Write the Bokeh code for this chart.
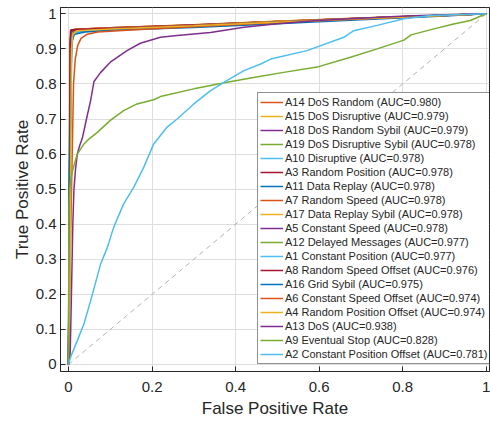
from bokeh.plotting import figure
from bokeh.models import Range1d, Legend, LegendItem, FixedTicker
from bokeh.embed import file_html
from bokeh.resources import INLINE

# ---------------- data ----------------
names = [
    "A14 DoS Random (AUC=0.980)",
    "A15 DoS Disruptive (AUC=0.979)",
    "A18 DoS Random Sybil (AUC=0.979)",
    "A19 DoS Disruptive Sybil (AUC=0.978)",
    "A10 Disruptive (AUC=0.978)",
    "A3 Random Position (AUC=0.978)",
    "A11 Data Replay (AUC=0.978)",
    "A7 Random Speed (AUC=0.978)",
    "A17 Data Replay Sybil (AUC=0.978)",
    "A5 Constant Speed (AUC=0.978)",
    "A12 Delayed Messages (AUC=0.977)",
    "A1 Constant Position (AUC=0.977)",
    "A8 Random Speed Offset (AUC=0.976)",
    "A16 Grid Sybil (AUC=0.975)",
    "A6 Constant Speed Offset (AUC=0.974)",
    "A4 Random Position Offset (AUC=0.974)",
    "A13 DoS (AUC=0.938)",
    "A9 Eventual Stop (AUC=0.828)",
    "A2 Constant Position Offset (AUC=0.781)",
]

tail_fpr = [0.1, 0.3, 0.5, 0.7, 0.9, 1.0]

fpr_a14 = [0, 0.002, 0.004, 0.007, 0.015] + tail_fpr
tpr_a14 = [0, 0.45, 0.90, 0.950, 0.956, 0.960, 0.969, 0.979, 0.988, 0.996, 1.0]
fpr_a15 = [0, 0.003, 0.006, 0.009, 0.02] + tail_fpr
tpr_a15 = [0, 0.40, 0.92, 0.951, 0.956, 0.960, 0.969, 0.979, 0.988, 0.996, 1.0]
fpr_a18 = [0, 0.002, 0.004, 0.008, 0.02] + tail_fpr
tpr_a18 = [0, 0.50, 0.93, 0.951, 0.954, 0.959, 0.968, 0.978, 0.987, 0.996, 1.0]
fpr_a19 = [0, 0.001, 0.004, 0.010, 0.03] + tail_fpr
tpr_a19 = [0, 0.45, 0.92, 0.948, 0.953, 0.958, 0.967, 0.978, 0.987, 0.996, 1.0]
fpr_a10 = [0, 0.003, 0.006, 0.012, 0.03] + tail_fpr
tpr_a10 = [0, 0.50, 0.90, 0.940, 0.952, 0.957, 0.966, 0.977, 0.987, 0.996, 1.0]
fpr_a3 = [0, 0.003, 0.005, 0.006, 0.02] + tail_fpr
tpr_a3 = [0, 0.50, 0.95, 0.954, 0.956, 0.960, 0.968, 0.978, 0.987, 0.996, 1.0]
fpr_a11 = [0, 0.001, 0.002, 0.007, 0.012, 0.03] + tail_fpr
tpr_a11 = [0, 0.30, 0.45, 0.92, 0.945, 0.950, 0.955, 0.964, 0.975, 0.985, 0.995, 1.0]
fpr_a7 = [0, 0.003, 0.006, 0.010, 0.02] + tail_fpr
tpr_a7 = [0, 0.50, 0.92, 0.947, 0.953, 0.958, 0.967, 0.978, 0.987, 0.996, 1.0]
fpr_a17 = [0, 0.004, 0.007, 0.010, 0.02] + tail_fpr
tpr_a17 = [0, 0.45, 0.93, 0.950, 0.955, 0.959, 0.967, 0.978, 0.987, 0.996, 1.0]
fpr_a5 = [0, 0.002, 0.005, 0.009, 0.02] + tail_fpr
tpr_a5 = [0, 0.45, 0.92, 0.949, 0.954, 0.958, 0.967, 0.977, 0.987, 0.996, 1.0]
fpr_a12 = [0, 0.002, 0.005, 0.010, 0.03] + tail_fpr
tpr_a12 = [0, 0.40, 0.91, 0.946, 0.953, 0.957, 0.966, 0.977, 0.986, 0.995, 1.0]
fpr_a1 = [0, 0.003, 0.006, 0.011, 0.03] + tail_fpr
tpr_a1 = [0, 0.45, 0.90, 0.942, 0.952, 0.956, 0.965, 0.976, 0.986, 0.995, 1.0]
fpr_a8 = [0, 0.002, 0.004, 0.005, 0.02] + tail_fpr
tpr_a8 = [0, 0.40, 0.90, 0.953, 0.955, 0.958, 0.966, 0.976, 0.986, 0.995, 1.0]
fpr_a16 = [0, 0.001, 0.002, 0.008, 0.014, 0.04] + tail_fpr
tpr_a16 = [0, 0.35, 0.50, 0.92, 0.942, 0.948, 0.953, 0.961, 0.972, 0.983, 0.994, 1.0]
fpr_a6 = [0, 0.004, 0.012, 0.016, 0.022, 0.03, 0.045, 0.07, 0.15, 0.3, 0.5, 0.7, 0.9, 1.0]
tpr_a6 = [0, 0.30, 0.80, 0.87, 0.91, 0.93, 0.942, 0.948, 0.954, 0.963, 0.975, 0.985, 0.995, 1.0]
fpr_a4 = [0, 0.004, 0.007, 0.010, 0.02] + tail_fpr
tpr_a4 = [0, 0.30, 0.90, 0.940, 0.952, 0.957, 0.966, 0.976, 0.986, 0.995, 1.0]
fpr_a13 = [0, 0.004, 0.007, 0.0103, 0.013, 0.017, 0.021, 0.027, 0.033, 0.043, 0.053, 0.061,
           0.077, 0.1, 0.14, 0.172, 0.22, 0.26, 0.34, 0.42, 0.5, 0.595, 0.7, 0.795, 0.9, 1.0]
tpr_a13 = [0, 0.03, 0.20, 0.40, 0.50, 0.56, 0.60, 0.625, 0.645, 0.70, 0.753, 0.807,
           0.833, 0.862, 0.895, 0.916, 0.933, 0.938, 0.947, 0.962, 0.972, 0.981, 0.987, 0.993, 0.997, 1.0]
fpr_a9 = [0, 0.001, 0.003, 0.005, 0.008, 0.013, 0.021, 0.037, 0.045, 0.069, 0.1, 0.132, 0.164,
          0.204, 0.22, 0.3, 0.38, 0.436, 0.515, 0.595, 0.675, 0.739, 0.803, 0.82, 0.875, 0.922, 0.962, 1.0]
tpr_a9 = [0, 0.45, 0.50, 0.525, 0.545, 0.567, 0.60, 0.629, 0.639, 0.662, 0.696, 0.724, 0.743,
          0.755, 0.764, 0.786, 0.805, 0.817, 0.833, 0.848, 0.876, 0.90, 0.925, 0.940, 0.957, 0.971, 0.981, 1.0]
fpr_a2 = [0, 0.005, 0.021, 0.037, 0.053, 0.077, 0.093, 0.108, 0.132, 0.156, 0.18, 0.204, 0.236,
          0.26, 0.3, 0.34, 0.38, 0.42, 0.46, 0.484, 0.571, 0.659, 0.683, 0.739, 0.803, 0.867, 1.0]
tpr_a2 = [0, 0.021, 0.068, 0.116, 0.182, 0.287, 0.334, 0.391, 0.458, 0.505, 0.562, 0.629, 0.677,
          0.70, 0.743, 0.781, 0.81, 0.838, 0.857, 0.871, 0.895, 0.933, 0.952, 0.967, 0.986, 0.995, 1.0]

fprs = [fpr_a14, fpr_a15, fpr_a18, fpr_a19, fpr_a10, fpr_a3, fpr_a11, fpr_a7, fpr_a17, fpr_a5,
        fpr_a12, fpr_a1, fpr_a8, fpr_a16, fpr_a6, fpr_a4, fpr_a13, fpr_a9, fpr_a2]
tprs = [tpr_a14, tpr_a15, tpr_a18, tpr_a19, tpr_a10, tpr_a3, tpr_a11, tpr_a7, tpr_a17, tpr_a5,
        tpr_a12, tpr_a1, tpr_a8, tpr_a16, tpr_a6, tpr_a4, tpr_a13, tpr_a9, tpr_a2]

diag_x = [0, 1]
diag_y = [0, 1]

x_ticks = [0, 0.2, 0.4, 0.6, 0.8, 1]
x_tick_labels = ["0", "0.2", "0.4", "0.6", "0.8", "1"]
y_ticks = [0, 0.1, 0.2, 0.3, 0.4, 0.5, 0.6, 0.7, 0.8, 0.9, 1]
y_tick_labels = ["0", "0.1", "0.2", "0.3", "0.4", "0.5", "0.6", "0.7", "0.8", "0.9", "1"]

# ---------------- style ----------------
cycle = ["#D95319", "#EDB120", "#7E2F8E", "#77AC30", "#4DBEEE", "#A2142F", "#0072BD"]
colors = [cycle[i % 7] for i in range(len(names))]
FONT = "Liberation Sans"
TXT = "#262626"

p = figure(width=490, height=421,
           x_range=Range1d(-0.0192, 1.0079), y_range=Range1d(-0.02, 1.018),
           output_backend="svg", toolbar_location=None,
           min_border_left=60, min_border_right=1, min_border_top=7, min_border_bottom=50,
           x_axis_label="False Positive Rate", y_axis_label="True Positive Rate")
p.background_fill_color = "white"
p.border_fill_color = "white"
p.outline_line_color = TXT
p.outline_line_width = 1
p.outline_line_alpha = 1

for ax, ticks, labels in ((p.xaxis[0], x_ticks, x_tick_labels), (p.yaxis[0], y_ticks, y_tick_labels)):
    ax.ticker = FixedTicker(ticks=ticks)
    ax.major_label_overrides = dict(zip(ticks, labels))
    ax.major_tick_in = 5
    ax.major_tick_out = 0
    ax.minor_tick_line_color = None
    ax.major_tick_line_color = TXT
    ax.axis_line_color = TXT
    ax.major_label_text_font = FONT
    ax.major_label_text_font_size = "15px"
    ax.major_label_text_color = TXT
    ax.axis_label_text_font = FONT
    ax.axis_label_text_font_size = "17px"
    ax.axis_label_text_font_style = "normal"
    ax.axis_label_text_color = TXT

p.xaxis[0].major_label_standoff = 10
p.xaxis[0].axis_label_standoff = 4
p.yaxis[0].major_label_standoff = 4
p.yaxis[0].axis_label_standoff = 1

p.xgrid.ticker = FixedTicker(ticks=x_ticks)
p.ygrid.ticker = FixedTicker(ticks=y_ticks)
for g in (p.xgrid[0], p.ygrid[0]):
    g.grid_line_color = "#dedede"
    g.grid_line_width = 1

p.line(diag_x, diag_y, line_color="#b3b3b3", line_width=1, line_dash="5 4")

items = []
for name, fx, ty, c in zip(names, fprs, tprs, colors):
    r = p.line(fx, ty, line_color=c, line_width=1.5)
    items.append(LegendItem(label=name, renderers=[r]))

legend = Legend(items=items, location=(197, 7))
legend.label_text_font = FONT
legend.label_text_font_size = "11px"
legend.label_text_color = TXT
legend.glyph_width = 23
legend.glyph_height = 14
legend.label_height = 14
legend.label_standoff = 2
legend.spacing = 0
legend.padding = 2
legend.margin = 0
legend.border_line_color = TXT
legend.border_line_width = 1
legend.background_fill_color = "white"
legend.background_fill_alpha = 1
p.add_layout(legend, "center")

open("out.html", "w").write(file_html(p, INLINE))
